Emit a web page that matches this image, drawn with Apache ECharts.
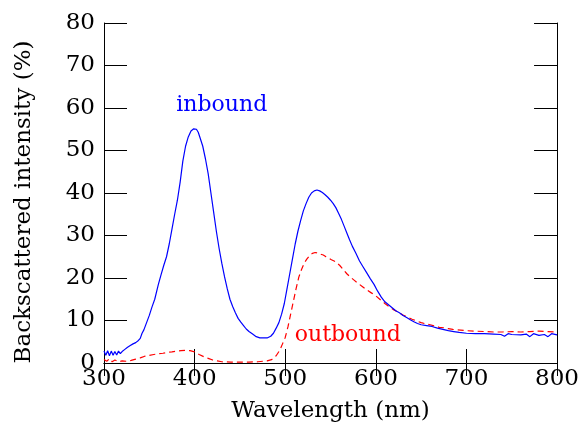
<!DOCTYPE html>
<html>
<head>
<meta charset="utf-8">
<script src="https://cdn.jsdelivr.net/npm/echarts@6/dist/echarts.min.js"></script>
<style>
  html, body { margin: 0; padding: 0; background: #fff; }
  #chart { width: 582px; height: 436px; }
</style>
</head>
<body>
<div id="chart"></div>
<script>
// inbound (blue, solid)
var inboundNm = [300, 302, 304, 306, 308, 310, 312, 314, 316, 318, 320, 323, 326, 329, 332, 335, 338, 340, 342, 344, 347, 350, 353, 356, 360, 363, 366, 369, 372, 375, 378, 381, 384, 387, 390, 393, 396, 399, 402, 404, 406, 409, 412, 415, 418, 421, 424, 427, 430, 433, 436, 439, 442, 445, 448, 451, 454, 457, 460, 464, 468, 472, 476, 480, 484, 487, 490, 493, 496, 499, 502, 505, 508, 511, 514, 517, 520, 523, 526, 529, 532, 535, 538, 541, 544, 547, 550, 553, 556, 559, 562, 565, 568, 571, 574, 578, 582, 586, 590, 594, 598, 602, 606, 610, 614, 618, 622, 626, 630, 634, 638, 642, 646, 650, 656, 662, 668, 674, 680, 686, 692, 700, 710, 720, 730, 738, 742, 746, 750, 760, 766, 770, 774, 780, 786, 790, 794, 800];
var inboundPct = [2.8, 1.8, 2.9, 1.7, 2.8, 1.8, 2.7, 1.9, 2.8, 2.2, 2.7, 3.2, 3.7, 4.1, 4.5, 4.8, 5.3, 5.8, 7.0, 7.8, 9.5, 11.2, 13.2, 15.0, 18.5, 20.8, 23.0, 25.0, 28.0, 31.5, 35.0, 38.3, 42.5, 47.5, 51.0, 53.2, 54.6, 55.1, 55.0, 54.3, 53.0, 51.0, 48.0, 44.5, 40.0, 35.5, 31.0, 27.0, 23.5, 20.3, 17.5, 15.0, 13.3, 11.8, 10.5, 9.6, 8.8, 8.0, 7.4, 6.8, 6.2, 5.9, 5.9, 5.9, 6.3, 7.0, 8.2, 9.5, 11.5, 14.0, 17.5, 21.0, 24.5, 28.0, 31.0, 33.5, 35.8, 37.5, 39.0, 40.0, 40.5, 40.7, 40.5, 40.1, 39.6, 39.0, 38.3, 37.5, 36.5, 35.2, 33.8, 32.2, 30.6, 29.0, 27.5, 25.8, 24.0, 22.6, 21.2, 19.8, 18.5, 16.9, 15.5, 14.4, 13.7, 13.0, 12.3, 11.8, 11.2, 10.7, 10.2, 9.7, 9.3, 9.0, 8.8, 8.6, 8.2, 7.9, 7.6, 7.4, 7.2, 7.0, 6.9, 6.9, 6.8, 6.7, 6.3, 6.9, 6.7, 6.6, 6.8, 6.2, 6.9, 6.5, 6.7, 6.2, 6.9, 6.6];

// outbound (red, dashed)
var outboundNm = [300, 303, 306, 309, 312, 316, 320, 325, 330, 335, 340, 345, 350, 355, 360, 365, 370, 375, 380, 385, 390, 395, 400, 405, 410, 415, 420, 425, 430, 440, 450, 460, 470, 480, 485, 490, 494, 497, 500, 503, 506, 509, 512, 515, 518, 521, 524, 527, 530, 533, 536, 539, 542, 545, 548, 551, 554, 557, 560, 564, 568, 572, 576, 580, 585, 590, 595, 600, 605, 610, 615, 620, 625, 630, 635, 640, 645, 650, 655, 660, 665, 670, 675, 680, 685, 690, 700, 710, 720, 730, 740, 750, 760, 770, 780, 790, 800];
var outboundPct = [0.8, 0.4, 1.0, 0.3, 0.7, 0.3, 0.5, 0.4, 0.6, 0.9, 1.2, 1.6, 1.8, 2.0, 2.2, 2.3, 2.5, 2.6, 2.8, 2.9, 3.0, 2.9, 2.6, 2.0, 1.5, 1.1, 0.7, 0.5, 0.3, 0.2, 0.2, 0.2, 0.3, 0.5, 0.8, 1.7, 3.0, 4.5, 6.0, 8.5, 11.5, 14.5, 17.5, 20.2, 22.0, 23.5, 24.5, 25.3, 25.8, 26.0, 25.9, 25.6, 25.4, 25.0, 24.7, 24.3, 24.0, 23.5, 23.0, 22.0, 21.0, 20.2, 19.5, 18.8, 18.0, 17.2, 16.5, 15.8, 14.9, 14.0, 13.2, 12.5, 11.9, 11.3, 10.8, 10.3, 9.9, 9.5, 9.2, 9.0, 8.7, 8.4, 8.3, 8.1, 7.9, 7.8, 7.6, 7.5, 7.4, 7.3, 7.3, 7.4, 7.3, 7.4, 7.5, 7.4, 7.3];

function pairs(xs, ys) {
  return xs.map(function (x, i) { return [x, ys[i]]; });
}

var font = 'DejaVu Serif';
var myChart = echarts.init(document.getElementById('chart'));

myChart.setOption({
  backgroundColor: '#fff',
  animation: false,
  grid: {
    left: 104,
    right: 23,
    top: 23,
    bottom: 73
  },
  xAxis: [{
    type: 'value',
    min: 300,
    max: 800,
    interval: 100,
    name: 'Wavelength (nm)',
    nameLocation: 'middle',
    nameGap: 37,
    nameTextStyle: { fontFamily: font, fontSize: 23, color: '#000' },
    axisLine: { lineStyle: { color: '#000', width: 1 } },
    axisTick: { inside: true, length: 14, lineStyle: { color: '#000' } },
    axisLabel: { fontFamily: font, fontSize: 23, color: '#000', margin: 5 },
    splitLine: { show: false }
  }, {
    type: 'value',
    position: 'top',
    min: 300,
    max: 800,
    interval: 100,
    axisLine: { show: true, lineStyle: { color: '#000', width: 1 } },
    axisTick: { inside: true, length: 13, lineStyle: { color: '#000' } },
    axisLabel: { show: false },
    splitLine: { show: false }
  }],
  yAxis: [{
    type: 'value',
    min: 0,
    max: 80,
    interval: 10,
    name: 'Backscattered intensity (%)',
    nameLocation: 'middle',
    nameGap: 68,
    nameTextStyle: { fontFamily: font, fontSize: 23, color: '#000', padding: [0, 18, 0, 0] },
    axisLine: { show: true, lineStyle: { color: '#000', width: 1 } },
    axisTick: { inside: true, length: 23, lineStyle: { color: '#000' } },
    axisLabel: { fontFamily: font, fontSize: 23, color: '#000', margin: 9, padding: [0, 0, 6, 0] },
    splitLine: { show: false }
  }, {
    type: 'value',
    position: 'right',
    min: 0,
    max: 80,
    interval: 10,
    axisLine: { show: true, lineStyle: { color: '#000', width: 1 } },
    axisTick: { inside: true, length: 23, lineStyle: { color: '#000' } },
    axisLabel: { show: false },
    splitLine: { show: false }
  }],
  series: [{
    name: 'inbound',
    type: 'line',
    data: pairs(inboundNm, inboundPct),
    showSymbol: false,
    smooth: false,
    lineStyle: { color: '#0000ff', width: 1.2 },
    markPoint: {
      symbolSize: 0,
      label: { show: true, position: 'inside', formatter: 'inbound', fontFamily: font, fontSize: 22, color: '#0000ff' },
      data: [{ coord: [430, 60.6] }]
    },
    z: 3
  }, {
    name: 'outbound',
    type: 'line',
    data: pairs(outboundNm, outboundPct),
    showSymbol: false,
    smooth: false,
    lineStyle: { color: '#ff0000', width: 1.2, type: [6, 4] },
    markPoint: {
      symbolSize: 0,
      label: { show: true, position: 'inside', formatter: 'outbound', fontFamily: font, fontSize: 22, color: '#ff0000' },
      data: [{ coord: [569, 6.6] }]
    },
    z: 2
  }]
});

window.addEventListener('resize', function () {
  myChart.resize();
});
</script>
</body>
</html>
